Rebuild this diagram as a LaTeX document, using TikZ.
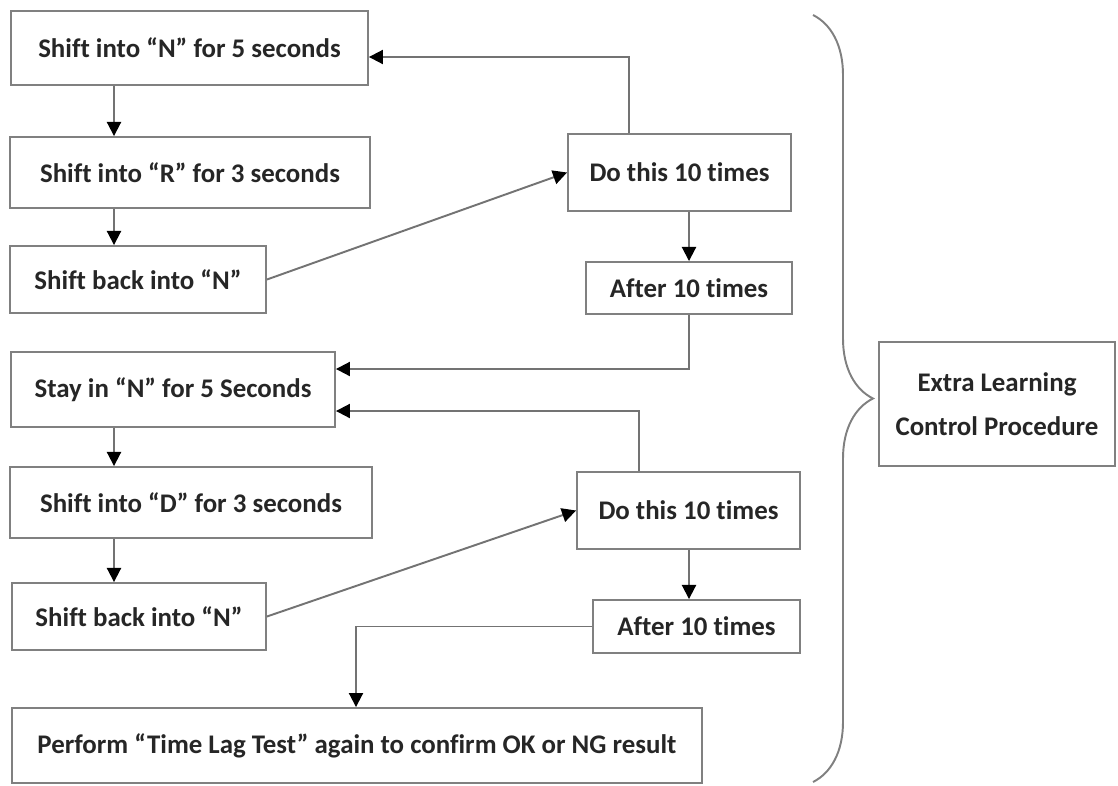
\documentclass[tikz,border=0pt]{standalone}
\usepackage{fontspec}
\setmainfont{Carlito}[Ligatures=NoCommon]
\usetikzlibrary{arrows.meta,decorations.pathreplacing}

\begin{document}
\begin{tikzpicture}[x=0.02cm,y=-0.02cm]
\tikzstyle{stepbox}=[draw=black!50,line width=1.1pt,fill=white,inner sep=0pt,align=center,font=\fontsize{15.3}{25}\selectfont\bfseries,text=black!85]
\tikzstyle{flow}=[draw=black!55,line width=1.1pt,-{Triangle[length=8pt,width=8pt,color=black]}]
\useasboundingbox (0,0) rectangle (1118,785);
\node[stepbox,minimum width=7.14cm,minimum height=1.48cm] (n5) at (189.5,48) {Shift into “N” for 5 seconds};
\node[stepbox,minimum width=7.2cm,minimum height=1.42cm] (r3) at (190,172.5) {Shift into “R” for 3 seconds};
\node[stepbox,minimum width=5.12cm,minimum height=1.34cm] (backN1) at (138,279.5) {Shift back into “N”};
\node[stepbox,minimum width=4.46cm,minimum height=1.54cm] (do1) at (679.5,172.5) {Do this 10 times};
\node[stepbox,minimum width=4.12cm,minimum height=1.04cm] (after1) at (689,288) {After 10 times};
\node[stepbox,minimum width=6.48cm,minimum height=1.5cm] (stayN) at (173,389.5) {Stay in “N” for 5 Seconds};
\node[stepbox,minimum width=7.24cm,minimum height=1.42cm] (d3) at (191,502.5) {Shift into “D” for 3 seconds};
\node[stepbox,minimum width=5.08cm,minimum height=1.34cm] (backN2) at (139,616.5) {Shift back into “N”};
\node[stepbox,minimum width=4.46cm,minimum height=1.54cm] (do2) at (688.5,510.5) {Do this 10 times};
\node[stepbox,minimum width=4.14cm,minimum height=1.06cm] (after2) at (696.5,626.5) {After 10 times};
\node[stepbox,minimum width=13.8cm,minimum height=1.5cm] (perform) at (357,745.5) {Perform “Time Lag Test” again to confirm OK or NG result};
\node[stepbox,minimum width=4.72cm,minimum height=2.48cm] (extra) at (997,404) {Extra Learning\\Control Procedure};
\coordinate (lx) at (114,0);
\coordinate (up1) at (629,57);
\coordinate (back1) at (0,369);
\coordinate (up2) at (639,411);
\coordinate (down2) at (689,0);
\coordinate (lag) at (356,0);
\draw[flow] (n5.south -| lx) -- (r3.north -| lx);
\draw[flow] (r3.south -| lx) -- (backN1.north -| lx);
\draw[flow] (backN1.east) -- (do1.west);
\draw[flow] (do1.north -| up1) |- (n5.east |- up1);
\draw[flow] (after1.north |- do1.south) -- (after1.north);
\draw[flow] (after1.south) |- (stayN.east |- back1);
\draw[flow] (do2.north -| up2) |- (stayN.east |- up2);
\draw[flow] (stayN.south -| lx) -- (d3.north -| lx);
\draw[flow] (d3.south -| lx) -- (backN2.north -| lx);
\draw[flow] (backN2.east) -- (do2.west);
\draw[flow] (do2.south -| down2) -- (after2.north -| down2);
\draw[flow] (after2.west) -| (perform.north -| lag);
\coordinate (bt) at (813,15);
\coordinate (bb) at (813,782);
\draw[draw=black!50,line width=1.1pt,decorate,decoration={brace,amplitude=1.2cm}] (bt) -- (bb);
\end{tikzpicture}
\end{document}
